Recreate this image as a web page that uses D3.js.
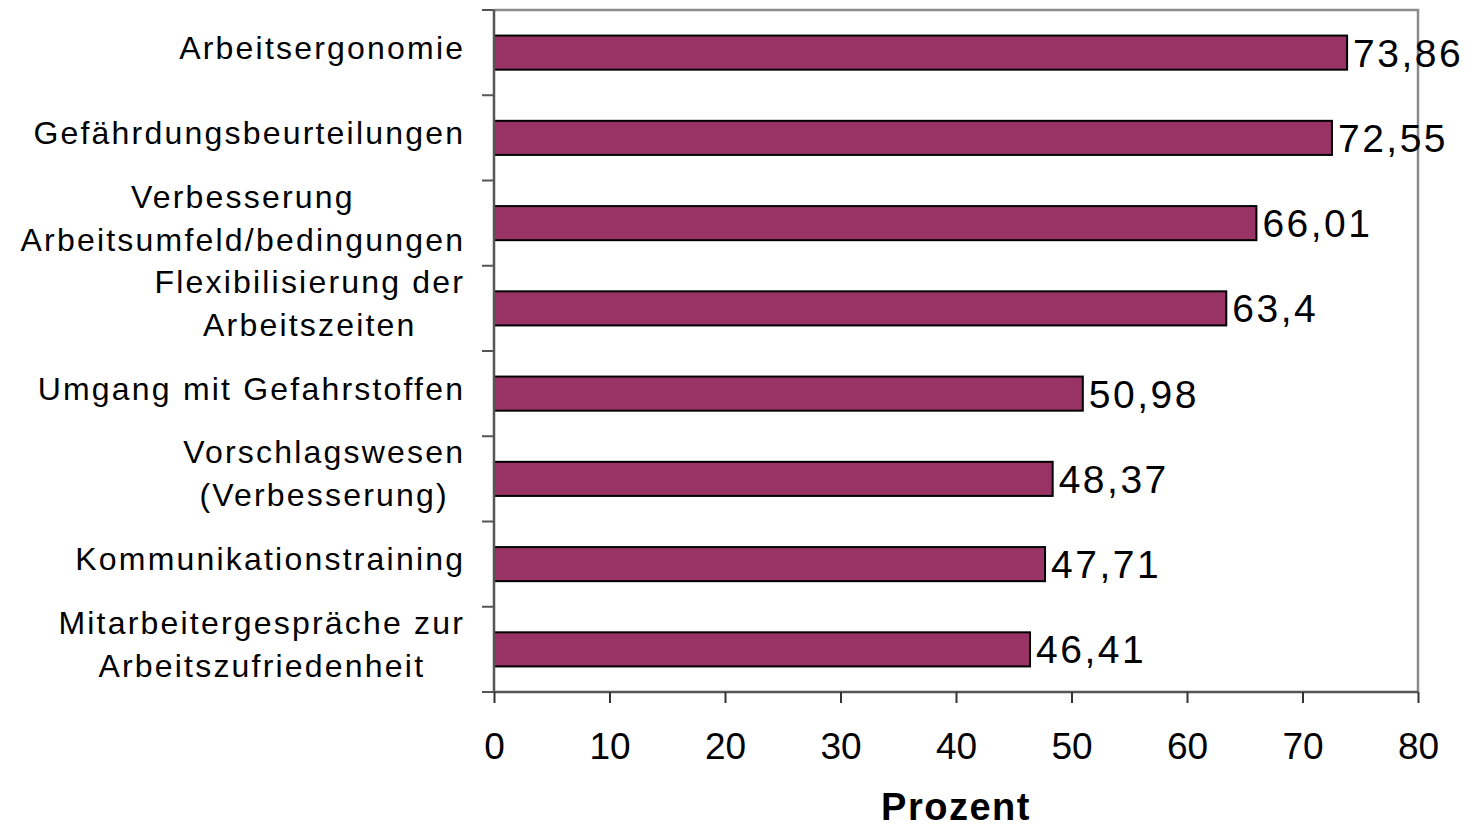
<!DOCTYPE html>
<html>
<head>
<meta charset="utf-8">
<script src="https://cdn.jsdelivr.net/npm/d3@7"></script>
<style>
  body { margin: 0; background: #fff; }
  svg { display: block; font-family: 'Liberation Sans', Arial, sans-serif; }
</style>
</head>
<body>
<svg width="1467" height="830"></svg>
<script>
// Data
const categories = [
  'Arbeitsergonomie',
  'Gefährdungsbeurteilungen',
  'Verbesserung\nArbeitsumfeld/bedingungen',
  'Flexibilisierung der\nArbeitszeiten',
  'Umgang mit Gefahrstoffen',
  'Vorschlagswesen\n(Verbesserung)',
  'Kommunikationstraining',
  'Mitarbeitergespräche zur\nArbeitszufriedenheit'
]
const values = [73.86, 72.55, 66.01, 63.4, 50.98, 48.37, 47.71, 46.41]
const xTicks = [0, 10, 20, 30, 40, 50, 60, 70, 80]
const xTitle = 'Prozent'

const barColor = '#993366'

let xPixelMin = 494
let xPixelMax = 1418
let yPixelMin = 10
let yPixelMax = 692

const svg = d3.select('svg')

// Scales
let xScale = d3.scaleLinear().domain([0, 80]).range([xPixelMin, xPixelMax])
let yScale = d3.scaleBand().domain(categories).range([yPixelMin, yPixelMax]).padding(0)

// Plot frame (top and right in light gray)
svg.append('path')
  .attr('d', `M${xPixelMin},${yPixelMin}H${xPixelMax}V${yPixelMax}`)
  .attr('fill', 'none')
  .attr('stroke', '#8a8a8a')
  .attr('stroke-width', 2.5)

// Bars
const barH = yScale.bandwidth() * 0.4
svg.selectAll('rect.bar')
  .data(values)
  .enter()
  .append('rect')
  .attr('class', 'bar')
  .attr('x', xScale(0))
  .attr('y', (d, i) => yScale(categories[i]) + (yScale.bandwidth() - barH) / 2)
  .attr('width', (d) => xScale(d) - xScale(0))
  .attr('height', barH)
  .attr('fill', barColor)
  .attr('stroke', '#000')
  .attr('stroke-width', 2)

// Value labels
svg.selectAll('text.val')
  .data(values)
  .enter()
  .append('text')
  .attr('class', 'val')
  .attr('x', (d) => xScale(d) + 6)
  .attr('y', (d, i) => yScale(categories[i]) + yScale.bandwidth() / 2 + 14)
  .style('font-size', '39px')
  .style('letter-spacing', '2.5px')
  .text((d) => String(d).replace('.', ','))

// Y axis line + ticks at band edges
svg.append('line')
  .attr('x1', xPixelMin).attr('x2', xPixelMin)
  .attr('y1', yPixelMin).attr('y2', yPixelMax)
  .attr('stroke', '#555').attr('stroke-width', 2.5)

const yEdges = categories.map((c) => yScale(c)).concat([yPixelMax])
svg.selectAll('line.ytick')
  .data(yEdges)
  .enter()
  .append('line')
  .attr('class', 'ytick')
  .attr('x1', xPixelMin - 12).attr('x2', xPixelMin)
  .attr('y1', (d) => d).attr('y2', (d) => d)
  .attr('stroke', '#555').attr('stroke-width', 2)

// Category labels (multi-line, centred as a block, right edge at 463)
const labelRight = 463
const lineGap = 43
const labelSpacing = 2.2
categories.forEach((c, i) => {
  const lines = c.split('\n')
  const cy = yScale(c) + yScale.bandwidth() / 2 + 6
  const g = svg.append('g')
  const texts = lines.map((ln, j) =>
    g.append('text')
      .attr('y', cy + (j - (lines.length - 1) / 2) * lineGap)
      .attr('text-anchor', 'middle')
      .style('font-size', '32px')
      .style('letter-spacing', labelSpacing + 'px')
      .text(ln)
  )
  const widths = texts.map((t) => t.node().getComputedTextLength() - labelSpacing)
  const maxW = d3.max(widths)
  texts.forEach((t) => t.attr('x', labelRight - maxW / 2 + labelSpacing / 2))
})

// X axis
let xAxis = d3.axisBottom(xScale)
  .tickValues(xTicks)
  .tickSize(11)
  .tickPadding(30)
  .tickFormat(d3.format('d'))

const xAxisG = svg.append('g')
  .attr('transform', `translate(0, ${yPixelMax})`)
  .call(xAxis)

xAxisG.select('.domain')
  .attr('stroke', '#555')
  .attr('stroke-width', 2.5)
  .attr('d', `M${xPixelMin},0H${xPixelMax}`)
xAxisG.selectAll('.tick line').attr('stroke', '#333').attr('stroke-width', 2)
xAxisG.selectAll('.tick text')
  .attr('fill', '#000')
  .style('font-size', '37px')
  .style('font-family', "'Liberation Sans', Arial, sans-serif")

// Axis title
svg.append('text')
  .attr('x', (xPixelMin + xPixelMax) / 2)
  .attr('y', 820)
  .attr('text-anchor', 'middle')
  .style('font-size', '38px')
  .style('font-weight', 'bold')
  .style('letter-spacing', '1.5px')
  .text(xTitle)
</script>
</body>
</html>
